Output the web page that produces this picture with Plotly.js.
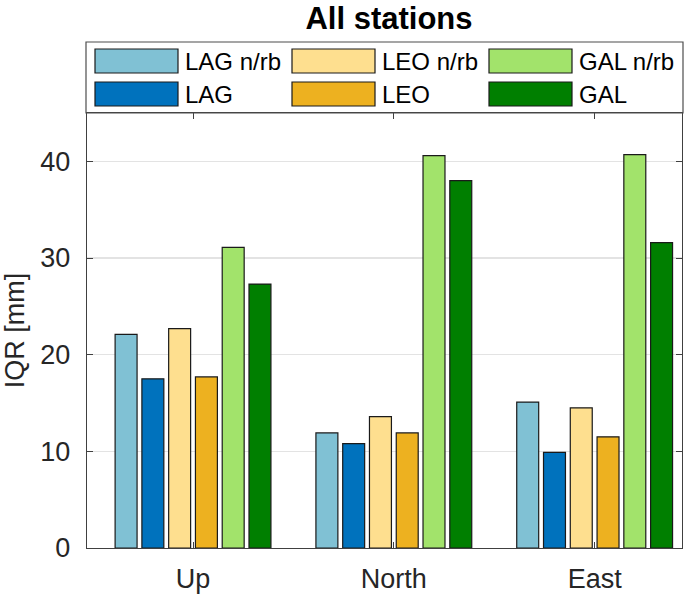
<!DOCTYPE html>
<html>
<head>
<meta charset="utf-8">
<script src="https://cdn.plot.ly/plotly-3.0.1.min.js"></script>
<style>html,body{margin:0;padding:0;background:#fff;}#chart{width:685px;height:598px;}</style>
</head>
<body>
<div id="chart"></div>
<script>
// ---- data ----
var categories = ['Up', 'North', 'East'];
var seriesNames = ['LAG n/rb', 'LAG', 'LEO n/rb', 'LEO', 'GAL n/rb', 'GAL'];
var lagNrb = [22.1, 11.9, 15.1];
var lag    = [17.5, 10.8, 9.9];
var leoNrb = [22.7, 13.6, 14.5];
var leo    = [17.7, 11.9, 11.5];
var galNrb = [31.1, 40.6, 40.7];
var gal    = [27.3, 38.0, 31.6];
var yTickVals = [0, 10, 20, 30, 40];

// ---- styles ----
var colors = ['#80c1d4', '#0072bd', '#fedf8f', '#edb120', '#a2e36b', '#007f00'];
var seriesValues = [lagNrb, lag, leoNrb, leo, galNrb, gal];
var W = 685, H = 598;
var plotL = 87, plotR = 682, plotT = 113, plotB = 548;
var font = 'Liberation Sans, Arial, Helvetica, sans-serif';
var txt = '#262626';

var traces = seriesNames.map(function (n, i) {
  return {
    type: 'bar', name: n, x: categories, y: seriesValues[i],
    marker: {color: colors[i], line: {color: '#1a1a1a', width: 1.2}},
    showlegend: false, hoverinfo: 'x+y+name'
  };
});

// pixel -> paper helpers
function px(x) { return (x - plotL) / (plotR - plotL); }
function py(y) { return (plotB - y) / (plotB - plotT); }

var shapes = [];
var annotations = [];
// legend box
shapes.push({type: 'rect', xref: 'paper', yref: 'paper', x0: px(86), x1: px(683), y0: py(113), y1: py(42),
  line: {color: '#4d4d4d', width: 1.2}, fillcolor: 'rgba(0,0,0,0)', layer: 'above'});
var colX = [95, 292, 489];
var rowY = [49, 82];
seriesNames.forEach(function (n, i) {
  var c = Math.floor(i / 2), r = i % 2;
  var x0 = colX[c], y0 = rowY[r];
  shapes.push({type: 'rect', xref: 'paper', yref: 'paper', x0: px(x0), x1: px(x0 + 83), y0: py(y0 + 24), y1: py(y0),
    line: {color: '#1a1a1a', width: 1.2}, fillcolor: colors[i], layer: 'above'});
  annotations.push({xref: 'paper', yref: 'paper', x: px(x0 + 88), y: py(y0 + 12.5), xanchor: 'left', yanchor: 'middle',
    text: n, showarrow: false, font: {family: font, size: 24, color: '#000'}});
});

var layout = {
  width: W, height: H,
  margin: {l: plotL, r: W - plotR, t: plotT, b: H - plotB, pad: 0},
  paper_bgcolor: '#fff', plot_bgcolor: '#fff',
  font: {family: font, color: txt},
  title: {text: 'All stations', x: 389 / W, xref: 'container', xanchor: 'center',
    y: 1 - 18 / H, yref: 'container', yanchor: 'middle',
    font: {family: font, size: 31, weight: 'bold', color: '#000'}},
  barmode: 'group', bargap: 0.2, bargroupgap: 0.18,
  showlegend: false,
  xaxis: {type: 'category', range: [-0.528, 2.435], tickvals: categories, ticktext: categories,
    ticks: 'inside', ticklen: 6, tickcolor: '#404040', tickwidth: 1,
    showline: true, linecolor: '#404040', linewidth: 1.2, mirror: 'ticks',
    showgrid: false, zeroline: false, fixedrange: true,
    tickfont: {family: font, size: 27, color: txt}, ticklabelstandoff: 6},
  yaxis: {range: [0, 45], tickvals: yTickVals, ticks: 'inside', ticklen: 6, tickcolor: '#404040', tickwidth: 1,
    showline: true, linecolor: '#404040', linewidth: 1.2, mirror: 'ticks',
    showgrid: true, gridcolor: '#e3e3e3', gridwidth: 1.2, zeroline: false,
    tickfont: {family: font, size: 27, color: txt}, ticklabelstandoff: 10,
    title: {text: 'IQR [mm]', standoff: 10, font: {family: font, size: 27, color: txt}}},
  shapes: shapes,
  annotations: annotations
};

Plotly.newPlot('chart', traces, layout, {displayModeBar: false, staticPlot: true});
</script>
</body>
</html>
